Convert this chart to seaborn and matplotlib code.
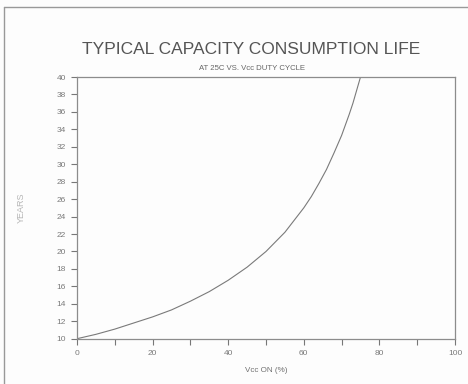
import matplotlib
matplotlib.use("Agg")
import matplotlib.pyplot as plt
import seaborn as sns
import pandas as pd
from matplotlib.lines import Line2D

# values
duty_pct = [0, 5, 10, 15, 20, 25, 30, 35, 40, 45, 50, 55, 60, 62, 64, 66,
            68, 70, 71, 72, 73, 74, 75]
years = [10.0, 10.5, 11.1, 11.8, 12.5, 13.3, 14.3, 15.4, 16.7, 18.2, 20.0,
         22.2, 25.0, 26.3, 27.8, 29.4, 31.3, 33.3, 34.5, 35.7, 37.0, 38.5, 40.0]

x_ticks = [0, 10, 20, 30, 40, 50, 60, 70, 80, 90, 100]
x_labels = ["0", "", "20", "", "40", "", "60", "", "80", "", "100"]
y_ticks = list(range(10, 41, 2))

title = "TYPICAL CAPACITY CONSUMPTION LIFE"
subtitle = "AT 25C VS. Vcc DUTY CYCLE"

sns.set_style("ticks")
plt.rcParams["font.family"] = ["Liberation Sans", "DejaVu Sans"]

df = pd.DataFrame({"duty": duty_pct, "years": years})

fig = plt.figure(figsize=(4.68, 3.84), dpi=100)
fig.patch.set_facecolor("#fdfdfd")
ax = fig.add_axes([77 / 468, 1 - 338.7 / 384, (455 - 77) / 468, (338.7 - 77) / 384])
ax.set_facecolor("#fdfdfd")

sns.lineplot(data=df, x="duty", y="years", ax=ax, color="#7a7a7a", linewidth=0.8)

ax.set_xlim(0, 100)
ax.set_ylim(10, 40)
ax.set_xticks(x_ticks)
ax.set_xticklabels(x_labels)
ax.set_yticks(y_ticks)
ax.tick_params(axis="both", direction="out", length=4, width=0.8,
               color="#777777", labelsize=6, labelcolor="#7a7a7a", pad=4)
for s in ax.spines.values():
    s.set_color("#8c8c8c")
    s.set_linewidth(0.9)

ax.set_xlabel("Vcc ON (%)", fontsize=5.8, color="#707070", labelpad=7)
ax.set_ylabel("YEARS", fontsize=6.5, color="#b5b5b5", labelpad=22)

fig.text(251 / 468, 1 - 50 / 384, title, ha="center", va="center",
         fontsize=12.5, color="#555555")
fig.text(252 / 468, 1 - 69 / 384, subtitle, ha="center", va="center",
         fontsize=5.6, color="#666666")

# outer frame (left and top edges visible)
fig.add_artist(Line2D([4 / 468, 4 / 468], [0, 1 - 7 / 384],
                      transform=fig.transFigure, color="#999999", linewidth=1))
fig.add_artist(Line2D([4 / 468, 1], [1 - 7 / 384, 1 - 7 / 384],
                      transform=fig.transFigure, color="#999999", linewidth=1))

fig.savefig("out.png", dpi=100, facecolor=fig.get_facecolor())
